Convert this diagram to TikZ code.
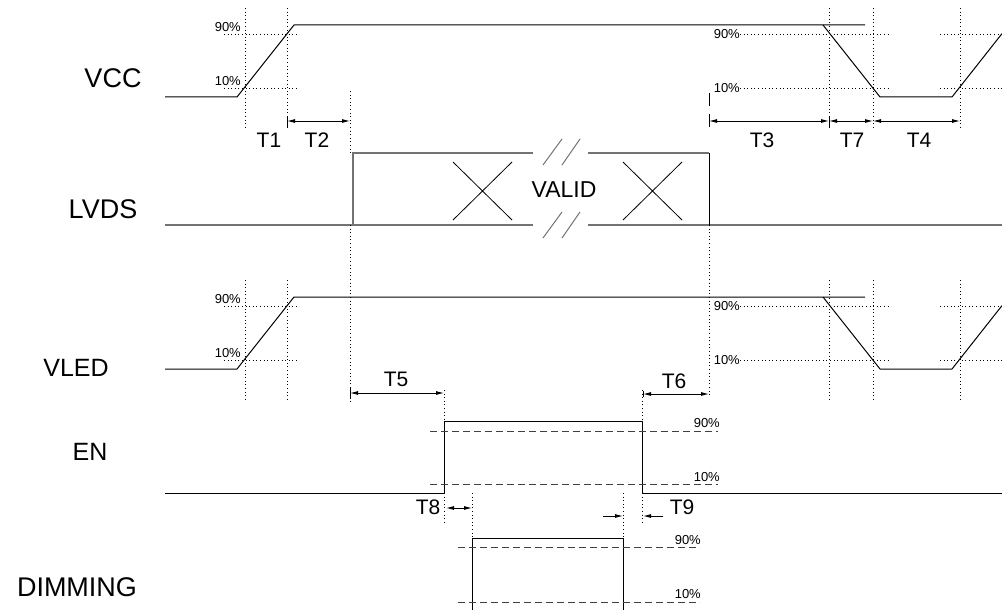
\documentclass[tikz,border=0pt]{standalone}
\usepackage{fontspec}
\setmainfont{Liberation Sans}
\usetikzlibrary{arrows.meta}

\begin{document}
\begin{tikzpicture}[x=1pt, y=-1pt, >={Latex[length=8pt,width=4pt]}]
	% Stili comuni per segnali, soglie e quote
	\tikzset{
		sig/.style={line width=1pt, line join=round},
		bus/.style={line width=1.3pt, draw=black!55},
		guida/.style={line width=0.8pt, dash pattern=on 0.8pt off 2.8pt},
		soglia/.style={line width=0.9pt, dash pattern=on 7pt off 4pt, draw=black!75},
		quota/.style={line width=0.9pt, <->},
		tacca/.style={line width=0.9pt},
		nome/.style={font=\fontsize{27}{30}\selectfont},
		tempo/.style={font=\fontsize{21}{24}\selectfont, inner sep=0pt},
		perc/.style={font=\fontsize{13}{15}\selectfont, inner sep=0pt}
	}
	\useasboundingbox (0,0) rectangle (1002,610);
	
	% Nomi dei segnali
	\node[nome] (vcc) at (113,78) {VCC};
	\node[nome] (lvds) at (103,209) {LVDS};
	\node[nome, font=\fontsize{25}{28}\selectfont] (vled) at (76,368) {VLED};
	\node[nome, font=\fontsize{25}{28}\selectfont] (en) at (90,452) {EN};
	\node[nome] (dimming) at (77,587) {DIMMING};
	
	% VCC e VLED (stessa forma, VLED spostato in basso)
	\foreach \dy/\sg in {0/vcc, 272/vled} {
		\begin{scope}[shift={(0,\dy)}]
			\draw[sig] (165,97) -- (237,97) -- (294,25) -- (865,25);
			\draw[sig] (823,25) -- (880,97) -- (952,97) -- (1002,33.6);
			% soglie 90% e 10%
			\draw[guida] (224,34) -- (298,34) (224,88) -- (298,88);
			\draw[guida] (740,34) -- (888,34) (940,34) -- (1002,34);
			\draw[guida] (740,88) -- (888,88) (940,88) -- (1002,88);
			\foreach \x in {245,287,829,873,960}
				\draw[guida] (\x,8) -- (\x,129);
			\node[perc, anchor=east] (\sg-s90) at (241,27) {90\%};
			\node[perc, anchor=east] (\sg-s10) at (241,81) {10\%};
			\node[perc, anchor=east] (\sg-d90) at (740,34) {90\%};
			\node[perc, anchor=east] (\sg-d10) at (740,88) {10\%};
		\end{scope}
	}
	
	% LVDS con interruzione
	\draw[bus] (165,225) -- (533,225) (588,225) -- (1002,225);
	\draw[bus] (353,225) -- (353,153) -- (533,153) (588,153) -- (709,153);
	\draw[line width=0.9pt] (709,153) -- (709,225);
	\draw[bus, line width=1pt] (543,165) -- (562,139) (562,165) -- (580,139)
		(543,238) -- (562,212) (562,238) -- (580,212);
	\draw[line width=0.8pt] (453,162) -- (512,220) (453,220) -- (512,162);
	\draw[line width=0.8pt] (623,162) -- (682,220) (623,220) -- (682,162);
	\node[font=\fontsize{23}{26}\selectfont] (valid) at (564,190) {VALID};
	
	% EN
	\draw[sig] (165,493) -- (444,493) -- (444,421) -- (642,421) -- (642,493) -- (1002,493);
	\draw[soglia] (430,431) -- (718,431) (430,484) -- (718,484);
	\node[perc, anchor=east] (en-s90) at (720,423) {90\%};
	\node[perc, anchor=east] (en-s10) at (720,477) {10\%};
	
	% DIMMING
	\draw[sig] (472,610) -- (472,538) -- (623,538) -- (623,610);
	\draw[soglia] (458,547) -- (700,547) (458,602) -- (700,602);
	\node[perc, anchor=east] (dim-s90) at (701,540) {90\%};
	\node[perc, anchor=east] (dim-s10) at (701,594) {10\%};
	
	% Estremi delle quote
	\coordinate (t2a) at (287,121);
	\coordinate (t2b) at (350,121);
	\coordinate (t3a) at (709,121);
	\coordinate (t3b) at (829,121);
	\coordinate (t7b) at (873,121);
	\coordinate (t4b) at (960,121);
	\coordinate (t5a) at (350,393);
	\coordinate (t5b) at (444,393);
	\coordinate (t6a) at (643,394);
	\coordinate (t6b) at (709,394);
	\coordinate (t8a) at (446,508);
	\coordinate (t8b) at (472,508);
	
	% Linee di riferimento verticali
	\draw[guida] (350,91) -- (350,153) (350,225) -- (350,403);
	\draw[guida] (709,225) -- (709,396);
	\draw[guida] (444,390) -- (444,421) (642,390) -- (642,421);
	\draw[guida] (444,493) -- (444,523) (642,493) -- (642,523);
	\draw[guida] (472,493) -- (472,538) (623,493) -- (623,538);
	\draw[tacca, dash pattern=on 13pt off 8pt] (709,93) -- (709,128);
	
	% Quote dei tempi
	\draw[quota] (t2a) -- (t2b);
	\draw[quota] (t3a) -- (t3b);
	\draw[quota] (t3b) -- (t7b);
	\draw[quota] (t7b) -- (t4b);
	\draw[quota] (t5a) -- (t5b);
	\draw[quota] (t6a) -- (t6b);
	\draw[quota] (t8a) -- (t8b);
	\draw[tacca] ([yshift=5pt]t2a) -- ([yshift=-6pt]t2a);
	\draw[tacca] ([yshift=5pt]t3b) -- ([yshift=-6pt]t3b);
	\draw[tacca] ([yshift=5pt]t5a) -- ([yshift=-6pt]t5a);
	\draw[tacca] ([yshift=3pt]t6a) -- ([yshift=-3pt]t6a);
	\draw[tacca, ->] (603,516) -- (623,516);
	\draw[tacca, ->] (663,516) -- (643,516);
	
	% Etichette dei tempi
	\node[tempo] (t1) at (269,140) {T1};
	\node[tempo] (t2) at (317,140) {T2};
	\node[tempo] (t3) at (762,140) {T3};
	\node[tempo] (t7) at (852,140) {T7};
	\node[tempo] (t4) at (919,140) {T4};
	\node[tempo] (t5) at (396,379) {T5};
	\node[tempo] (t6) at (674,381) {T6};
	\node[tempo] (t8) at (428,507) {T8};
	\node[tempo] (t9) at (682,507) {T9};
\end{tikzpicture}
\end{document}
